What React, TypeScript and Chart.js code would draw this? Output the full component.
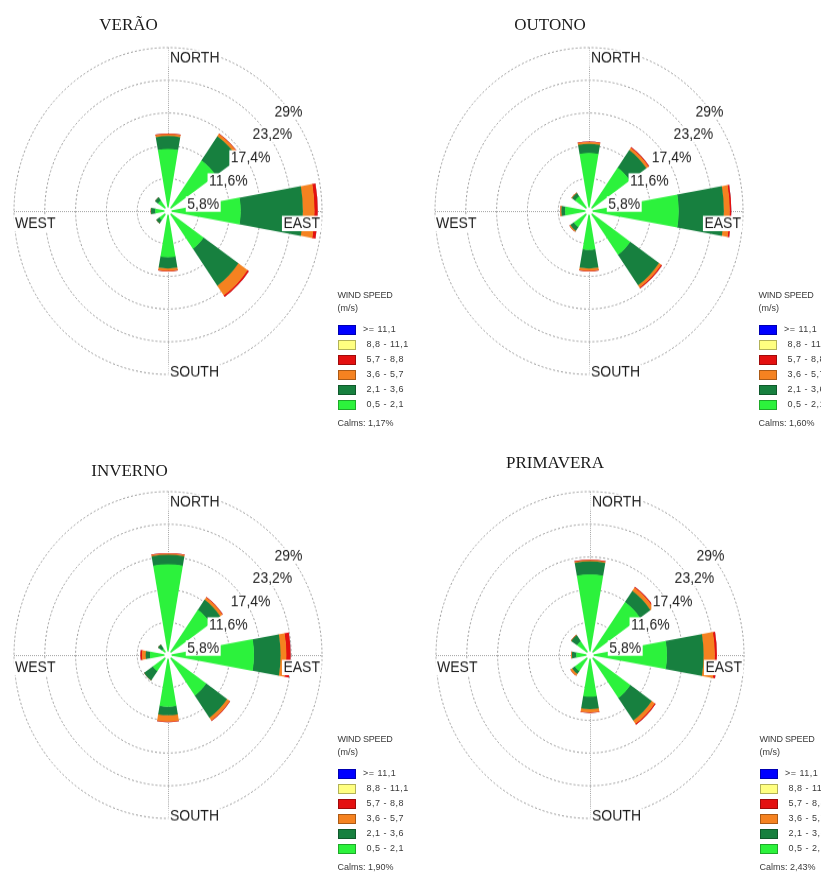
import React, { useEffect, useRef } from 'react';
import { Chart, registerables } from 'chart.js';

Chart.register(...registerables);

// ---------- data ----------
const DIRECTIONS = ['N', 'NE', 'E', 'SE', 'S', 'SW', 'W', 'NW'];
const SPEED_CLASSES = ['0,5 - 2,1', '2,1 - 3,6', '3,6 - 5,7', '5,7 - 8,8', '8,8 - 11,1', '>= 11,1'];
const CLASS_COLORS = ['#2CF23C', '#17803F', '#F58220', '#E41010', '#FFFF80', '#0000FF'];
const RING_TICKS = [0, 5.8, 11.6, 17.4, 23.2, 29];
const AXIS_LABELS = ['NORTH', 'EAST', 'SOUTH', 'WEST'];
const SEASON_TITLES = ['VERÃO', 'OUTONO', 'INVERNO', 'PRIMAVERA'];
const CALMS = ['Calms: 1,17%', 'Calms: 1,60%', 'Calms: 1,90%', 'Calms: 2,43%'];

// frequency (%) of each speed class by direction N, NE, E, SE, S, SW, W, NW
const VERAO_05_21 = [11.0, 11.0, 13.7, 8.2, 8.2, 2.0, 2.4, 2.3];
const VERAO_21_36 = [2.3, 5.2, 11.7, 8.0, 2.0, 0.7, 0.8, 0.7];
const VERAO_36_57 = [0.35, 0.5, 2.2, 2.1, 0.4, 0.0, 0.05, 0.0];
const VERAO_57_88 = [0.1, 0.1, 0.6, 0.3, 0.1, 0.0, 0.0, 0.0];
const VERAO_88_111 = [0, 0, 0, 0, 0, 0, 0, 0];
const VERAO_111 = [0, 0, 0, 0, 0, 0, 0, 0];

const OUTONO_05_21 = [10.3, 9.4, 16.9, 9.5, 6.9, 3.5, 4.5, 3.2];
const OUTONO_21_36 = [1.6, 3.8, 8.5, 6.6, 3.3, 0.8, 0.7, 0.7];
const OUTONO_36_57 = [0.35, 0.5, 1.1, 0.5, 0.4, 0.2, 0.2, 0.15];
const OUTONO_57_88 = [0.1, 0.15, 0.3, 0.2, 0.1, 0.0, 0.0, 0.0];
const OUTONO_88_111 = [0, 0, 0, 0, 0, 0, 0, 0];
const OUTONO_111 = [0, 0, 0, 0, 0, 0, 0, 0];

const INVERNO_05_21 = [16.1, 9.8, 16.2, 8.8, 9.2, 3.5, 3.4, 1.4];
const INVERNO_21_36 = [1.7, 2.2, 5.0, 4.8, 1.5, 2.0, 0.8, 0.9];
const INVERNO_36_57 = [0.2, 0.5, 1.1, 0.6, 1.1, 0.0, 0.7, 0.0];
const INVERNO_57_88 = [0.1, 0.1, 0.8, 0.1, 0.1, 0.0, 0.3, 0.0];
const INVERNO_88_111 = [0, 0, 0, 0, 0, 0, 0, 0];
const INVERNO_111 = [0, 0, 0, 0, 0, 0, 0, 0];

const PRIMAVERA_05_21 = [14.3, 11.5, 14.5, 9.3, 7.4, 3.5, 2.6, 3.0];
const PRIMAVERA_21_36 = [2.3, 2.4, 6.9, 4.9, 2.2, 0.6, 0.8, 1.3];
const PRIMAVERA_36_57 = [0.2, 0.7, 2.1, 0.7, 0.6, 0.4, 0.15, 0.1];
const PRIMAVERA_57_88 = [0.1, 0.15, 0.4, 0.2, 0.1, 0.0, 0.0, 0.0];
const PRIMAVERA_88_111 = [0, 0, 0, 0, 0, 0, 0, 0];
const PRIMAVERA_111 = [0, 0, 0, 0, 0, 0, 0, 0];

const SEASON_CLASSES = [
  [VERAO_05_21, VERAO_21_36, VERAO_36_57, VERAO_57_88, VERAO_88_111, VERAO_111],
  [OUTONO_05_21, OUTONO_21_36, OUTONO_36_57, OUTONO_57_88, OUTONO_88_111, OUTONO_111],
  [INVERNO_05_21, INVERNO_21_36, INVERNO_36_57, INVERNO_57_88, INVERNO_88_111, INVERNO_111],
  [PRIMAVERA_05_21, PRIMAVERA_21_36, PRIMAVERA_36_57, PRIMAVERA_57_88, PRIMAVERA_88_111, PRIMAVERA_111],
];

// ---------- layout ----------
const PANELS = [
  { cx: 168, cy: 211, titleX: 128.5, titleBase: 30 },
  { cx: 589, cy: 211, titleX: 550, titleBase: 30 },
  { cx: 168, cy: 655, titleX: 129.5, titleBase: 476.5 },
  { cx: 590, cy: 655, titleX: 555, titleBase: 468 },
];
const SY = 163 / 154; // vertical stretch of the original picture
const CANVAS = 360;
const PAD = 26;
const WEDGE_DEG = 20;
const SANS = '"Liberation Sans", Arial, sans-serif';
const SERIF = '"Liberation Serif", "Times New Roman", serif';

const fmtPct = (v: number) => String(v).replace('.', ',') + '%';

function boxedText(ctx: CanvasRenderingContext2D, text: string, x: number, base: number, align: 'left' | 'right') {
  ctx.font = `14px ${SANS}`;
  const w = ctx.measureText(text).width;
  const left = align === 'right' ? x - w : x;
  ctx.fillStyle = '#ffffff';
  ctx.fillRect(left - 1.5, base - 11.5, w + 3, 14.5);
  ctx.fillStyle = '#1e1e1e';
  ctx.textAlign = 'left';
  ctx.textBaseline = 'alphabetic';
  ctx.fillText(text, left, base);
}

// each speed class becomes a ring segment starting where the previous class ends
const annulusPlugin = {
  id: 'annulus',
  afterDatasetsUpdate(chart: any) {
    const s = chart.scales.r;
    chart.data.datasets.forEach((ds: any, k: number) => {
      const meta = chart.getDatasetMeta(k);
      meta.data.forEach((el: any, i: number) => {
        const b = ds.base[i];
        el.innerRadius = b > 0 ? Math.max(s.getDistanceFromCenterForValue(b) - 0.4, 0) : 0;
      });
    });
  },
};

const roseOverlay = {
  id: 'roseOverlay',
  beforeDatasetsDraw(chart: any) {
    const s = chart.scales.r;
    const ctx: CanvasRenderingContext2D = chart.ctx;
    const cx = s.xCenter, cy = s.yCenter, R = s.drawingArea;
    ctx.save();
    ctx.strokeStyle = '#a8a8a8';
    ctx.lineWidth = 1;
    ctx.setLineDash([1, 1]);
    ctx.beginPath();
    ctx.moveTo(cx - R, cy + 0.5);
    ctx.lineTo(cx + R, cy + 0.5);
    ctx.moveTo(cx + 0.5, cy - R);
    ctx.lineTo(cx + 0.5, cy + R);
    ctx.stroke();
    ctx.restore();
  },
  afterDatasetsDraw(chart: any) {
    const s = chart.scales.r;
    const ctx: CanvasRenderingContext2D = chart.ctx;
    const cx = s.xCenter, cy = s.yCenter, R = s.drawingArea;
    ctx.save();
    ctx.fillStyle = '#ffffff';
    ctx.beginPath();
    ctx.arc(cx, cy, 3.6, 0, Math.PI * 2);
    ctx.fill();
    RING_TICKS.slice(1).forEach((v) => {
      const r = s.getDistanceFromCenterForValue(v);
      const x = cx + r * Math.SQRT1_2 - 2.5;
      const base = cy - r * Math.SQRT1_2 + 19.5;
      boxedText(ctx, fmtPct(v), x, base, 'left');
    });
    boxedText(ctx, AXIS_LABELS[0], cx + 2, cy - R + 14, 'left');
    boxedText(ctx, AXIS_LABELS[1], cx + R - 2, cy + 16, 'right');
    boxedText(ctx, AXIS_LABELS[2], cx + 2, cy + R + 2, 'left');
    boxedText(ctx, AXIS_LABELS[3], cx - R + 1, cy + 16, 'left');
    ctx.restore();
  },
};

function buildDatasets(classes: number[][]) {
  const cumulative = (k: number) =>
    DIRECTIONS.map((_, d) => classes.slice(0, k + 1).reduce((sum, arr) => sum + arr[d], 0));
  return classes.map((_, k) => {
    const top = cumulative(k);
    const bottom = k === 0 ? DIRECTIONS.map(() => 0) : cumulative(k - 1);
    return {
      label: SPEED_CLASSES[k],
      data: top.flatMap((v) => [v, 0]),
      base: bottom.flatMap((v) => [v, 0]),
      backgroundColor: CLASS_COLORS[k],
      borderWidth: 0,
      angle: (c: any) => (c.dataIndex % 2 === 0 ? WEDGE_DEG : 45 - WEDGE_DEG),
    };
  });
}

function Rose({ index }: { index: number }) {
  const ref = useRef<HTMLCanvasElement | null>(null);
  useEffect(() => {
    if (!ref.current) return;
    const labels = DIRECTIONS.flatMap((d) => [d, '']);
    const chart = new Chart(ref.current, {
      type: 'polarArea',
      data: { labels, datasets: buildDatasets(SEASON_CLASSES[index]) as any },
      options: {
        animation: false,
        responsive: false,
        events: [],
        layout: { padding: PAD },
        plugins: { legend: { display: false }, tooltip: { enabled: false }, title: { display: false } },
        scales: {
          r: {
            min: 0,
            max: 29,
            startAngle: -WEDGE_DEG / 2,
            afterBuildTicks: (scale: any) => {
              scale.ticks = RING_TICKS.map((v) => ({ value: v }));
            },
            ticks: { display: false },
            grid: { color: '#9a9a9a', lineWidth: 1, circular: true },
            border: { dash: [2, 2] },
            angleLines: { display: false },
            pointLabels: { display: false },
          } as any,
        },
      },
      plugins: [annulusPlugin as any, roseOverlay as any],
    });
    return () => chart.destroy();
  }, [index]);
  const p = PANELS[index];
  return (
    <canvas
      ref={ref}
      width={CANVAS}
      height={CANVAS}
      style={{
        position: 'absolute',
        left: p.cx - CANVAS / 2,
        top: p.cy - (CANVAS / 2) * SY,
        width: `${CANVAS}px`,
        height: `${CANVAS * SY}px`,
      }}
    />
  );
}

function Legend({ index }: { index: number }) {
  const p = PANELS[index];
  const left = p.cx + 169.5;
  const txt: React.CSSProperties = {
    position: 'absolute',
    font: `9px ${SANS}`,
    color: '#3a3a3a',
    whiteSpace: 'nowrap',
    lineHeight: '11px',
  };
  const order = [5, 4, 3, 2, 1, 0];
  return (
    <>
      <div style={{ ...txt, left, top: p.cy + 79, letterSpacing: '-0.2px' }}>WIND SPEED</div>
      <div style={{ ...txt, left, top: p.cy + 92 }}>(m/s)</div>
      {order.map((k, i) => {
        const top = p.cy + 113.5 + 15 * i;
        return (
          <React.Fragment key={k}>
            <div
              style={{
                position: 'absolute',
                left,
                top,
                width: 18,
                height: 10.5,
                boxSizing: 'border-box',
                background: CLASS_COLORS[k],
                border: '1px solid rgba(0,0,0,0.3)',
              }}
            />
            <div style={{ ...txt, left: p.cx + (k === 5 ? 195 : 198.5), top: top - 0.5, letterSpacing: '0.5px' }}>
              {SPEED_CLASSES[k]}
            </div>
          </React.Fragment>
        );
      })}
      <div style={{ ...txt, left, top: p.cy + 207 }}>{CALMS[index]}</div>
    </>
  );
}

function Title({ index }: { index: number }) {
  const p = PANELS[index];
  return (
    <div
      style={{
        position: 'absolute',
        left: p.titleX - 100,
        width: 200,
        top: p.titleBase - 14.2,
        textAlign: 'center',
        font: `17px ${SERIF}`,
        lineHeight: '17px',
        color: '#1a1a1a',
        whiteSpace: 'nowrap',
      }}
    >
      {SEASON_TITLES[index]}
    </div>
  );
}

export default function App() {
  return (
    <div
      style={{
        position: 'fixed',
        left: 0,
        top: 0,
        width: 821,
        height: 879,
        overflow: 'hidden',
        background: '#ffffff',
      }}
    >
      {[0, 1, 2, 3].map((i) => (
        <React.Fragment key={i}>
          <Rose index={i} />
          <Title index={i} />
          <Legend index={i} />
        </React.Fragment>
      ))}
    </div>
  );
}
